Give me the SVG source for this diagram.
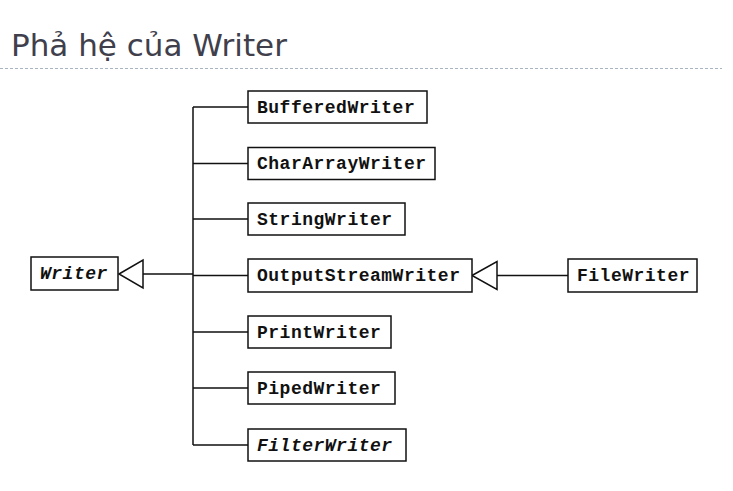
<svg xmlns="http://www.w3.org/2000/svg" width="733" height="491" viewBox="0 0 733 491">
<style>
.box{fill:#fff;stroke:#111;stroke-width:1.5}
.lbl{font-family:"Liberation Mono","DejaVu Sans Mono",monospace;font-size:18px;font-weight:bold;fill:#111;letter-spacing:0.5px}
.it{font-style:italic}
.ln{fill:none;stroke:#111;stroke-width:1.5}
.tri{fill:#fff;stroke:#111;stroke-width:1.5}
</style>
<rect width="733" height="491" fill="#fff"/>
<text x="11" y="56" font-family="DejaVu Sans, sans-serif" font-size="31" fill="#40404c">Phả hệ của Writer</text>
<line x1="0" y1="68.5" x2="722" y2="68.5" stroke="#a9b4c2" stroke-width="1" stroke-dasharray="3,2"/>
<g id="connectors">
<path class="ln" d="M143,274 H193 M193,107 V445 M193,107 H248 M193,163.5 H248 M193,219 H248 M193,275.5 H248 M193,332 H248 M193,388 H248 M193,445 H248 M497,275.5 H568"/>
<polygon class="tri" points="119,274 143,260 143,288"/>
<polygon class="tri" points="472,275.5 497,261.5 497,289.5"/>
</g>
<g id="Writer"><rect class="box" x="31" y="257" width="87" height="33"/><text class="lbl it" x="40" y="279">Writer</text></g>
<g id="BufferedWriter"><rect class="box" x="248" y="91" width="179" height="32"/><text class="lbl" x="257" y="112.5">BufferedWriter</text></g>
<g id="CharArrayWriter"><rect class="box" x="248" y="147.5" width="187" height="32"/><text class="lbl" x="257" y="169">CharArrayWriter</text></g>
<g id="StringWriter"><rect class="box" x="248" y="203" width="157" height="32"/><text class="lbl" x="257" y="224.5">StringWriter</text></g>
<g id="OutputStreamWriter"><rect class="box" x="248" y="259" width="224" height="33"/><text class="lbl" x="257" y="281">OutputStreamWriter</text></g>
<g id="PrintWriter"><rect class="box" x="248" y="316" width="143" height="32"/><text class="lbl" x="257" y="337.5">PrintWriter</text></g>
<g id="PipedWriter"><rect class="box" x="248" y="372" width="147" height="32"/><text class="lbl" x="257" y="393.5">PipedWriter</text></g>
<g id="FilterWriter"><rect class="box" x="248" y="429" width="158" height="32"/><text class="lbl it" x="257" y="450.5">FilterWriter</text></g>
<g id="FileWriter"><rect class="box" x="568" y="259" width="129" height="33"/><text class="lbl" x="577" y="281">FileWriter</text></g>
</svg>
